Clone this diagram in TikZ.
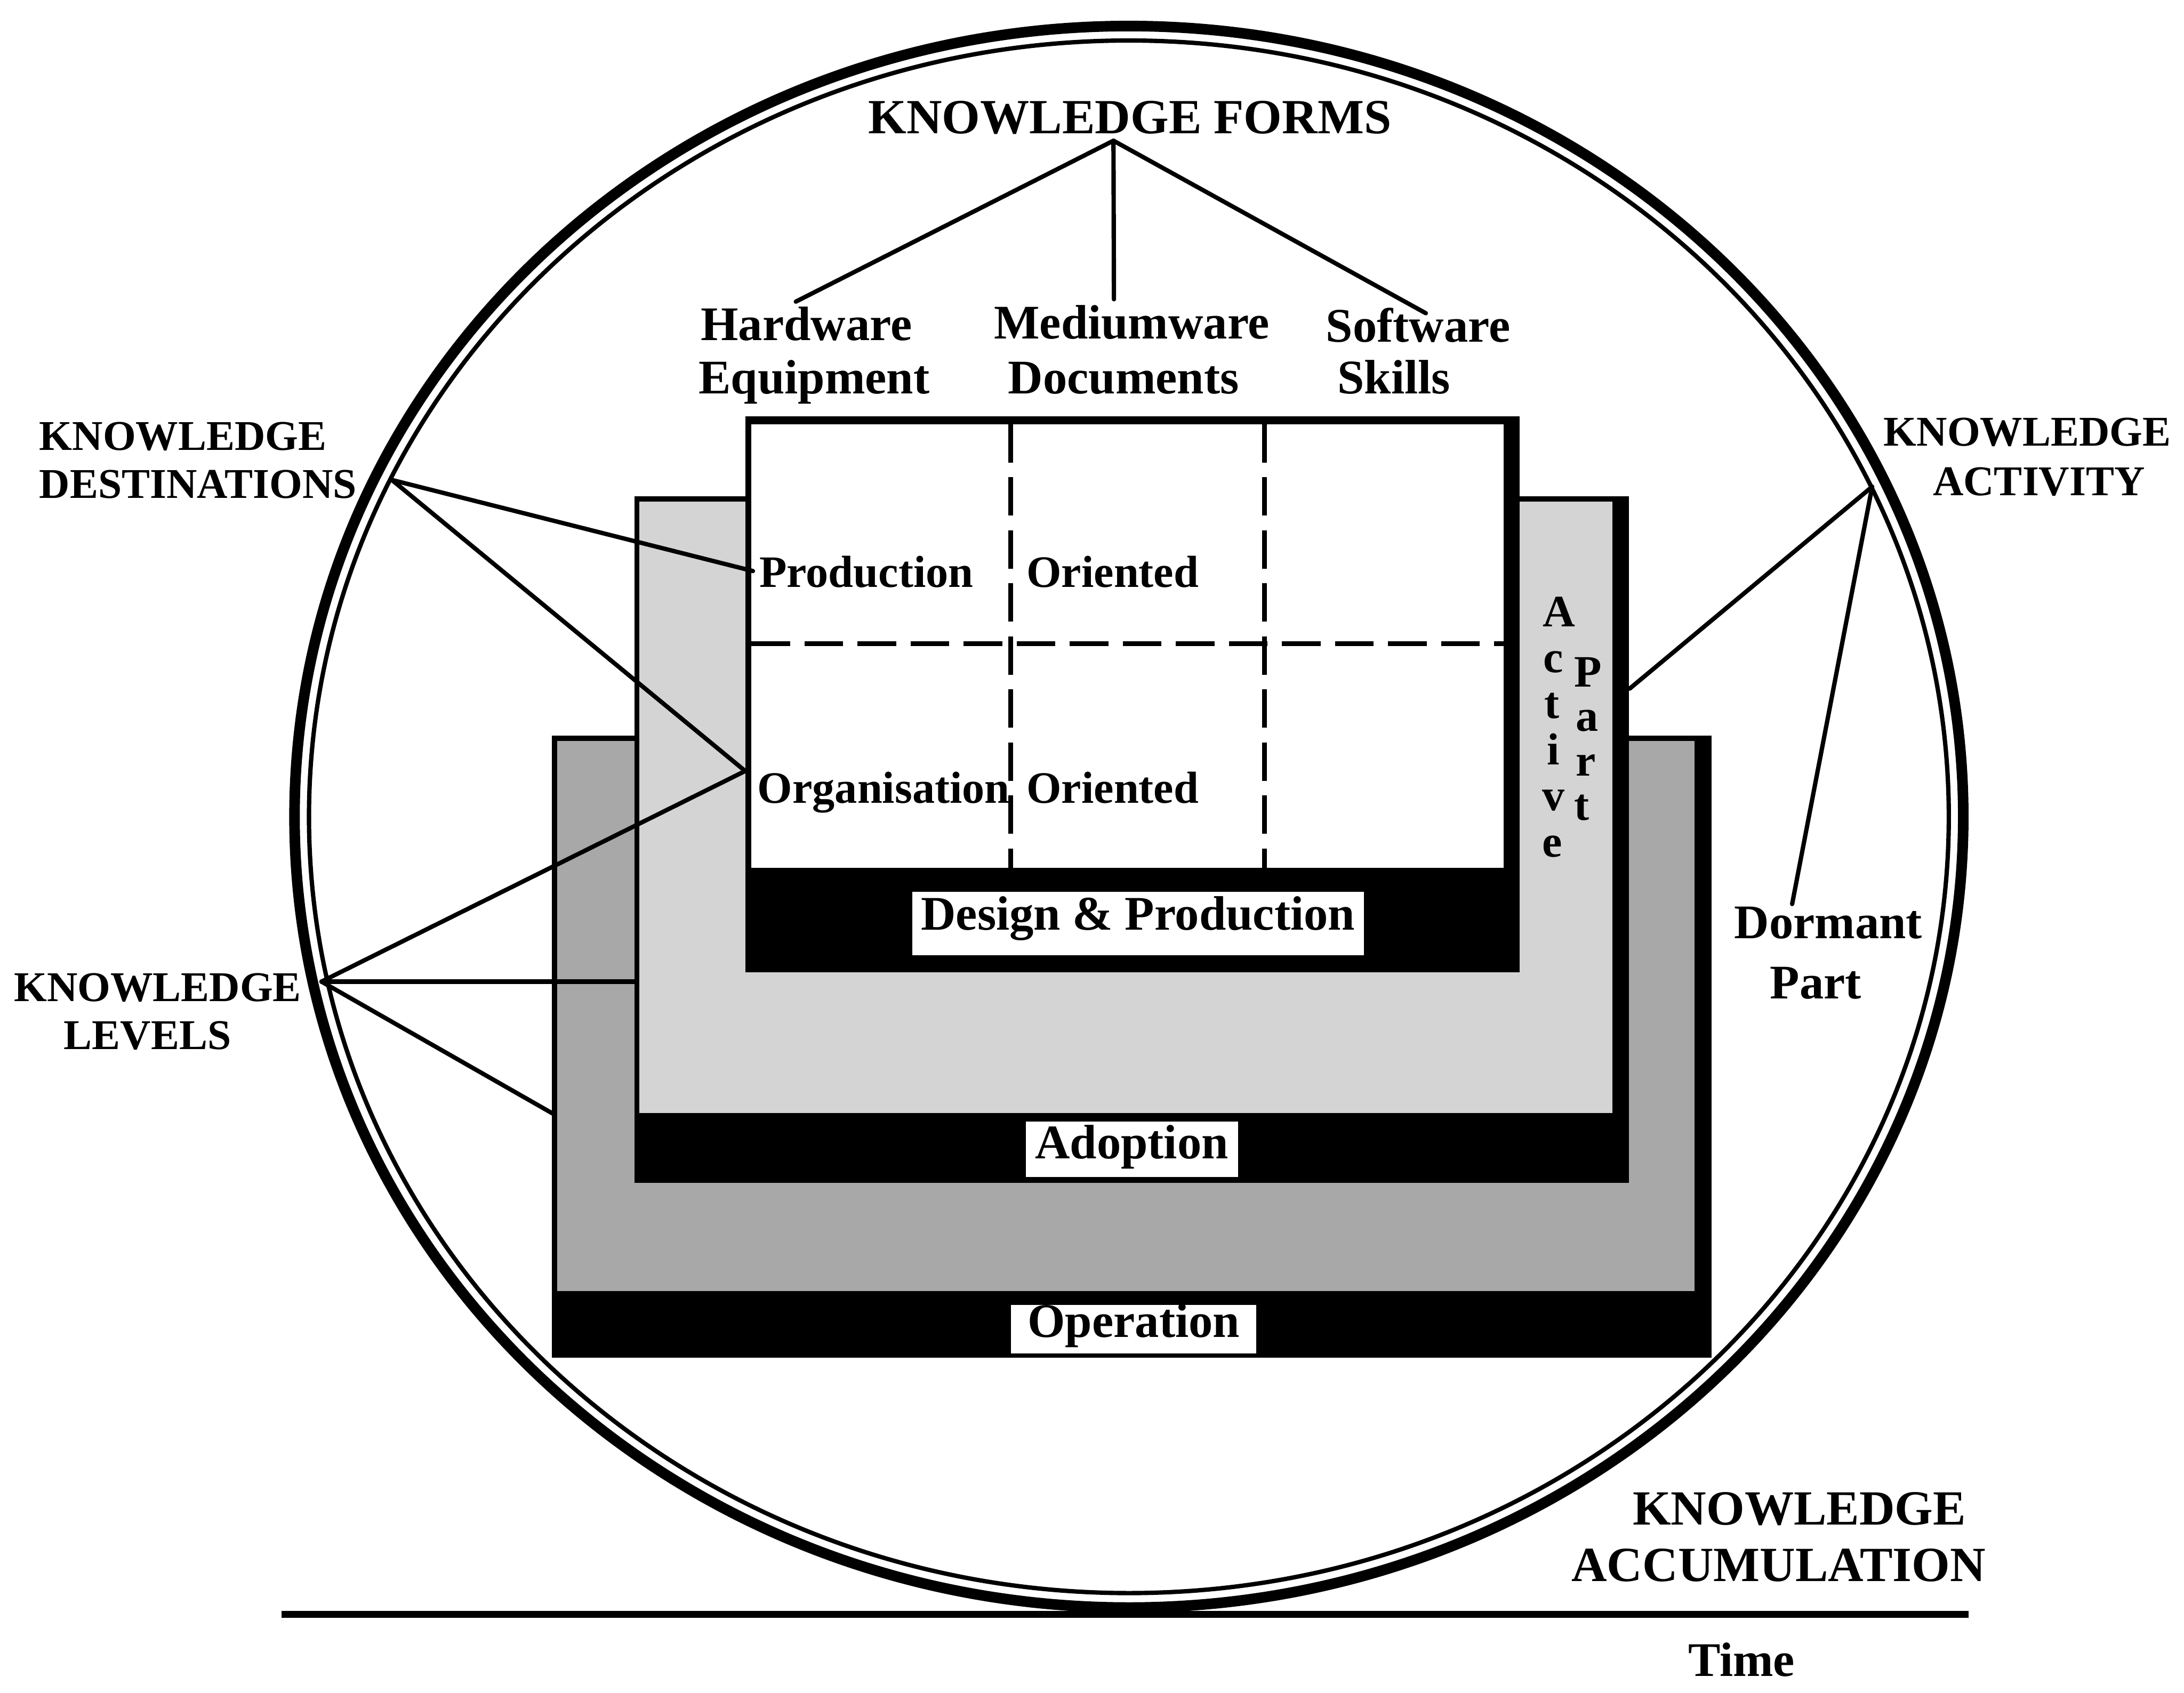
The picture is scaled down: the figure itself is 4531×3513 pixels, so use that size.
\documentclass[tikz,border=0pt]{standalone}
\usepackage{fontspec}
\setmainfont{Liberation Serif}
\definecolor{outergray}{gray}{0.66}
\definecolor{middlegray}{gray}{0.83}
\tikzset{
  capS/.style={font=\fontsize{25}{28}\selectfont\bfseries, inner sep=0pt},
  capL/.style={font=\fontsize{29}{32}\selectfont\bfseries, inner sep=0pt},
  formlab/.style={font=\fontsize{28.5}{31}\selectfont\bfseries, inner sep=0pt},
  celllab/.style={font=\fontsize{26.5}{29}\selectfont\bfseries, inner sep=0pt, anchor=base west},
  bandlab/.style={font=\fontsize{28.5}{31}\selectfont\bfseries, inner sep=0pt, fill=white, anchor=base},
  vlet/.style={font=\fontsize{26.5}{29}\selectfont\bfseries, inner sep=0pt, anchor=base},
  conn/.style={line width=0.09cm, line cap=round},
  dashline/.style={line width=0.1cm, dash pattern=on 0.8cm off 0.3cm},
}
\begin{document}
\begin{tikzpicture}[x=0.01cm,y=-0.01cm]
\useasboundingbox (0,0) rectangle (4531,3513);
\fill[white] (0,0) rectangle (4531,3513);

% ---- outer layer (Operation)
\fill[black] (1145,1527) rectangle (3551,2817);
\fill[outergray] (1156,1538) rectangle (3515,2679);
% ---- middle layer (Adoption)
\fill[black] (1316,1030) rectangle (3379,2455);
\fill[middlegray] (1326,1041) rectangle (3345,2310);
% ---- inner layer (Design & Production)
\fill[black] (1546,864) rectangle (3153,2018);
\fill[white] (1559,880) rectangle (3119,1801);
\draw[dashline] (2097,880) -- (2097,1801);
\draw[dashline] (2623,880) -- (2623,1801);
\draw[dashline] (1559,1336) -- (3119,1336);

% ---- band labels
\node[bandlab, text height=0.79cm, text depth=0.52cm, minimum width=9.37cm] (dp) at (2361,1930) {Design \& Production};
\node[bandlab, text height=0.77cm, text depth=0.38cm, minimum width=4.40cm] (ad) at (2348,2404) {Adoption};
\node[bandlab, text height=0.67cm, text depth=0.34cm, minimum width=5.08cm] (op) at (2352,2775) {Operation};

% ---- cell labels
\node[celllab] (prod) at (1575,1218) {Production};
\node[celllab] (or1) at (2129,1218) {Oriented};
\node[celllab] (org) at (1571,1667) {Organisation};
\node[celllab] (or2) at (2129,1667) {Oriented};

% ---- Active / Part vertical letters
\node[vlet] (a1) at (3234,1300) {A};
\node[vlet] (a2) at (3223,1396) {c};
\node[vlet] (a3) at (3220,1491) {t};
\node[vlet] (a4) at (3223,1587) {i};
\node[vlet] (a5) at (3223,1682) {v};
\node[vlet] (a6) at (3220,1778) {e};
\node[vlet] (p1) at (3295,1425) {P};
\node[vlet] (p2) at (3293,1517) {a};
\node[vlet] (p3) at (3290,1610) {r};
\node[vlet] (p4) at (3281,1702) {t};

% ---- the circle
\coordinate (cc) at (2342,1695);
\draw[line width=0.22cm] (cc) ellipse [x radius=17.30cm, y radius=16.40cm];
\draw[line width=0.09cm] (cc) ellipse [x radius=17.00cm, y radius=16.10cm];

% ---- time axis
\coordinate (g1) at (584,3350);
\coordinate (g2) at (4084,3350);
\draw[line width=0.14cm] (g1) -- (g2);

% ---- Knowledge forms
\node[capL, anchor=base] (kf) at (2344,277) {KNOWLEDGE FORMS};
\node[formlab, anchor=base] (hw1) at (1673,706) {Hardware};
\node[formlab, anchor=base] (hw2) at (1689,817) {Equipment};
\node[formlab, anchor=base] (md1) at (2348,703) {Mediumware};
\node[formlab, anchor=base] (md2) at (2331,817) {Documents};
\node[formlab, anchor=base] (sw1) at (2942,710) {Software};
\node[formlab, anchor=base] (sw2) at (2892,817) {Skills};
\coordinate (kfA) at (2310,292);
\coordinate (hwT) at (1651,626);
\coordinate (mdT) at (2311,621);
\coordinate (swT) at (2958,650);
\draw[conn] (kfA) -- (hwT);
\draw[conn] (kfA) -- (mdT);
\draw[conn] (kfA) -- (swT);

% ---- Knowledge destinations
\node[capS, anchor=base west] (kd1) at (81,934) {KNOWLEDGE};
\node[capS, anchor=base west] (kd2) at (81,1034) {DESTINATIONS};
\coordinate (kdV) at (813,996);
\coordinate (prodP) at (1562,1185);
\coordinate (orgP) at (1546,1600);
\draw[conn] (kdV) -- (prodP);
\draw[conn] (kdV) -- (orgP);

% ---- Knowledge levels
\node[capS, anchor=base] (kl1) at (327,2078) {KNOWLEDGE};
\node[capS, anchor=base] (kl2) at (306,2178) {LEVELS};
\coordinate (klV) at (667,2037);
\coordinate (midL) at (1320,2037);
\coordinate (outL) at (1147,2311);
\draw[conn] (klV) -- (orgP);
\draw[conn] (klV) -- (midL);
\draw[conn] (klV) -- (outL);

% ---- Knowledge activity
\node[capS, anchor=base] (ka1) at (4206,925) {KNOWLEDGE};
\node[capS, anchor=base] (ka2) at (4230,1028) {ACTIVITY};
\node[formlab, anchor=base] (dm1) at (3793,1947) {Dormant};
\node[formlab, anchor=base] (dm2) at (3767,2072) {Part};
\coordinate (kaV) at (3884,1010);
\coordinate (actR) at (3381,1429);
\coordinate (dmT) at (3718,1876);
\draw[conn] (kaV) -- (actR);
\draw[conn] (kaV) -- (dmT);

% ---- Knowledge accumulation / time
\node[capL, anchor=base] (kc1) at (3733,3164) {KNOWLEDGE};
\node[capL, anchor=base] (kc2) at (3690,3282) {ACCUMULATION};
\node[formlab, anchor=base] (tm) at (3613,3478) {Time};
\end{tikzpicture}
\end{document}
